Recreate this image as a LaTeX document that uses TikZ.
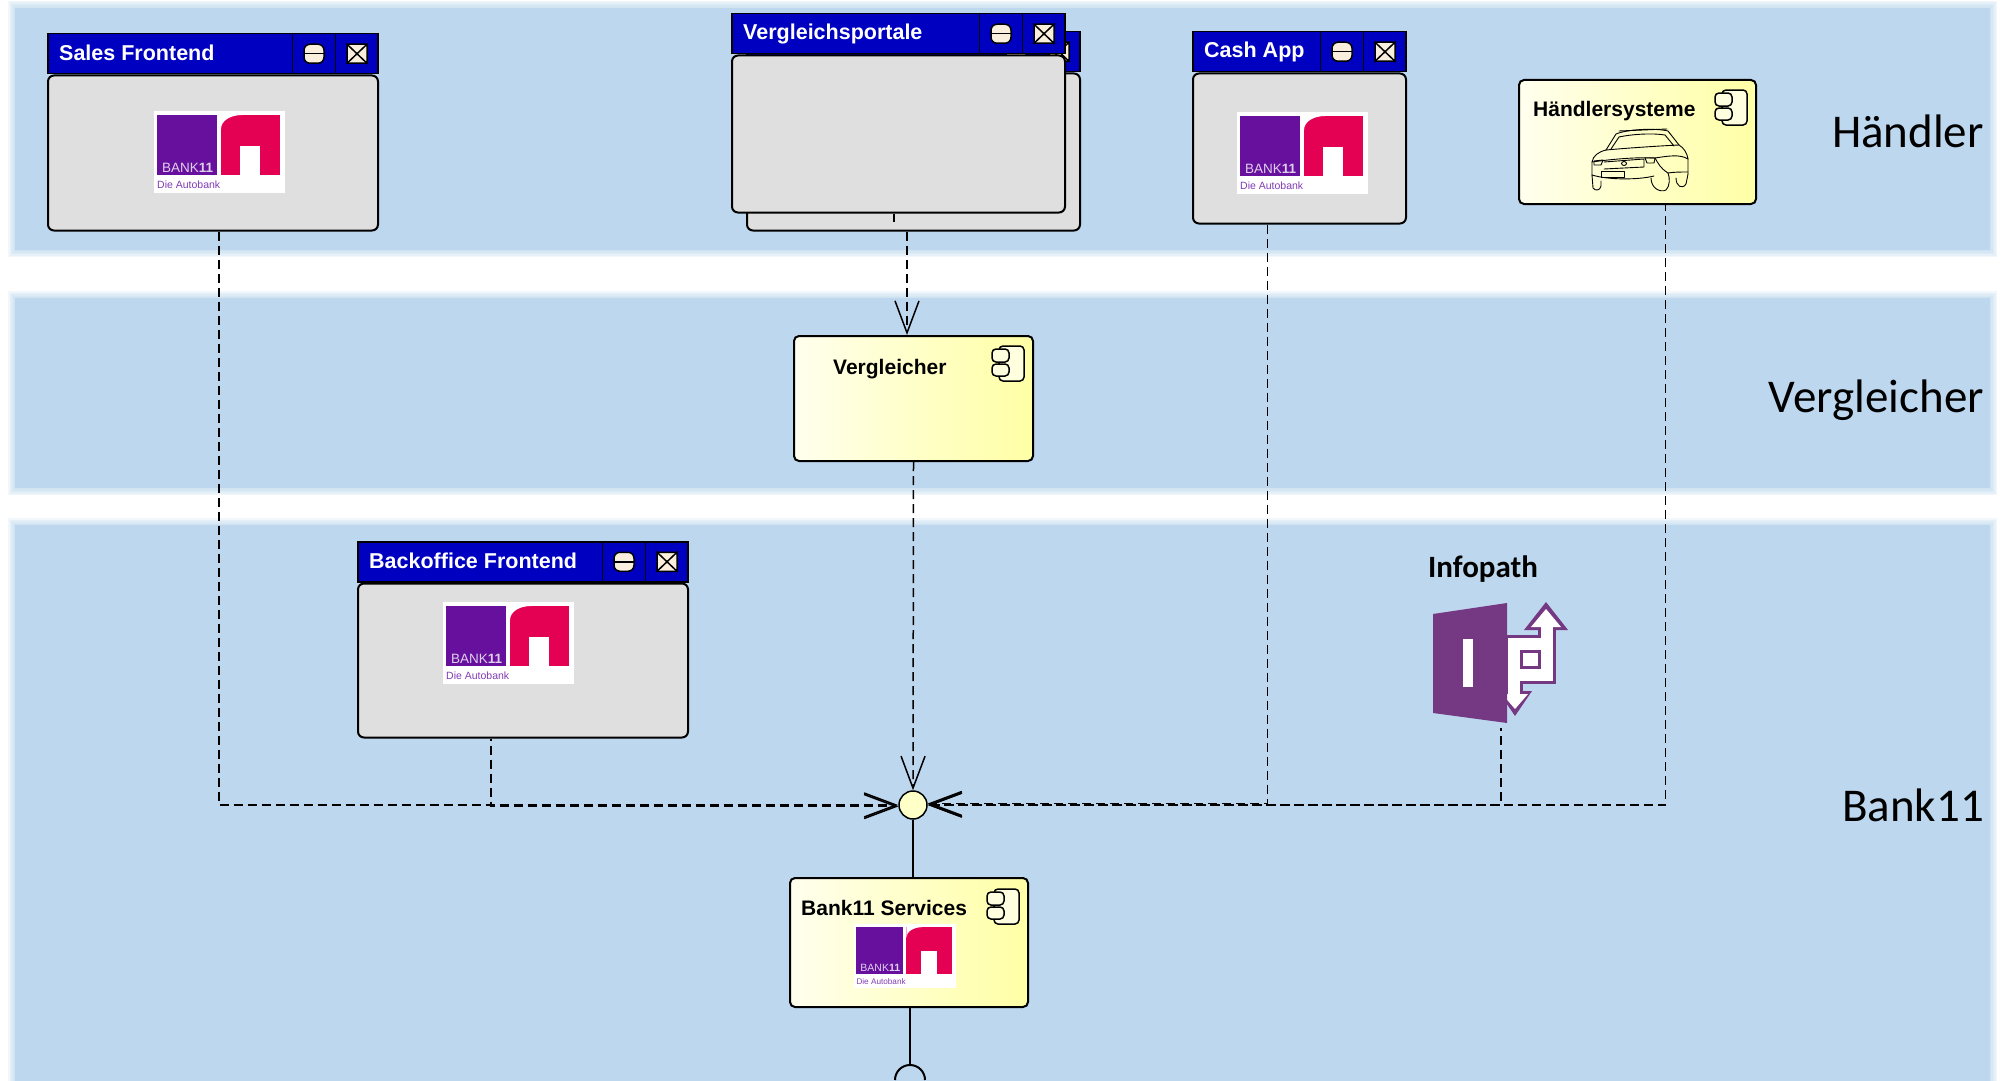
\documentclass[tikz,border=0pt]{standalone}
\usepackage{fontspec}
\setmainfont{Liberation Sans}
\newfontfamily\calibrifont{Carlito}
\usetikzlibrary{calc,arrows.meta}

\definecolor{lane}{RGB}{189,215,238}
\definecolor{barblue}{RGB}{0,0,192}
\definecolor{bodygray}{RGB}{223,223,223}
\definecolor{btncream}{RGB}{250,238,220}
\definecolor{compL}{RGB}{255,255,238}
\definecolor{compR}{RGB}{255,255,165}
\definecolor{iconfill}{RGB}{255,255,224}
\definecolor{logopurple}{RGB}{104,16,158}
\definecolor{logopink}{RGB}{228,0,82}
\definecolor{logotext}{RGB}{222,208,236}
\definecolor{logosub}{RGB}{128,60,180}
\definecolor{ippurple}{RGB}{117,56,131}
\definecolor{ballfill}{RGB}{255,255,200}

\tikzset{
  winbar/.style={draw=black, line width=1.5pt, fill=barblue, minimum height=40pt, inner sep=0pt},
  wintitle/.style={text=white, font=\bfseries\fontsize{21.5}{25}\selectfont, inner sep=0pt, anchor=base west},
  winbody/.style={draw=black, line width=2pt, fill=bodygray, rounded corners=6pt, inner sep=0pt},
  winline/.style={black, line width=1.5pt},
  btnbox/.style={draw=black, line width=1.5pt, fill=btncream, inner sep=0pt, minimum width=20pt, minimum height=19pt},
  compbox/.style={draw=black, line width=2pt, rounded corners=5pt, left color=compL, right color=compR, inner sep=0pt},
  complabel/.style={font=\bfseries\fontsize{21}{25}\selectfont, inner sep=0pt, anchor=base west},
  lanelabel/.style={font=\calibrifont\fontsize{47}{56}\selectfont, inner sep=0pt, anchor=base east},
  dep/.style={line width=1.5pt, dash pattern=on 9pt off 5pt,
    -{Straight Barb[length=32pt,width=24pt,line width=1.5pt]}},
  carline/.style={line width=0.9pt, line join=round, line cap=round},
}

% swim lane with a soft edge
\newcommand\lanerect[4]{%
  \foreach \d in {7,5.5,4,2.5,1}{\fill[lane, opacity=0.2] (#1-\d,#2-\d) rectangle (#3+\d,#4+\d);}
  \fill[lane] (#1,#2) rectangle (#3,#4);}

% window: name, x, y, width, body height, title
\newcommand\uiwindow[6]{%
  \node[winbar, minimum width=#4pt, anchor=north west] (#1-bar) at (#2,#3) {};
  \draw[winline] ($(#1-bar.north east)+(-43,0)$) -- ($(#1-bar.south east)+(-43,0)$);
  \draw[winline] ($(#1-bar.north east)+(-86,0)$) -- ($(#1-bar.south east)+(-86,0)$);
  \node[btnbox, rounded corners=6pt] (#1-min) at ($(#1-bar.east)+(-64.5,0)$) {};
  \draw[winline] (#1-min.west) -- (#1-min.east);
  \node[btnbox, rounded corners=2pt] (#1-close) at ($(#1-bar.east)+(-21.5,0)$) {};
  \draw[winline] (#1-close.north west) -- (#1-close.south east)
                 (#1-close.north east) -- (#1-close.south west);
  \node[wintitle] (#1-title) at ($(#1-bar.north west)+(12,27)$) {#6};
  \node[winbody, minimum width=#4pt, minimum height=#5pt, anchor=north west] (#1) at (#1-bar.south west) {};
}

% BANK11 logo: x, y of the top left corner, scale
\newcommand\banklogo[3]{%
  \begin{scope}[shift={(#1,#2)}, scale=#3, transform shape]
    \fill[white] (0,0) rectangle (131,82);
    \fill[logopurple] (3,4) rectangle (63,64);
    \fill[logopink] (67,4) rectangle (126,64);
    \fill[white] (67,4) -- (88,4) .. controls (76,4) and (67,10) .. (67,18) -- cycle;
    \fill[white] (86,35) rectangle (106,64);
    \node[anchor=base west, inner sep=0pt, text=logotext, font=\fontsize{13.5}{16}\selectfont] at (8,61) {BANK\textbf{11}};
    \node[anchor=base west, inner sep=0pt, text=logosub, font=\fontsize{10.5}{12}\selectfont] at (3,77) {Die Autobank};
  \end{scope}}

% UML component glyph, placed by the top right corner of its box
\newcommand\compicon[1]{%
  \begin{scope}[shift={#1}]
    \draw[line width=1.5pt, fill=iconfill, rounded corners=4pt] (-25,0) rectangle (0,35);
    \draw[line width=1.5pt, fill=iconfill, rounded corners=4pt] (-32,3) rectangle (-15,16);
    \draw[line width=1.5pt, fill=iconfill, rounded corners=4pt] (-32,18) rectangle (-15,30);
  \end{scope}}

\begin{document}
\begin{tikzpicture}[x=1pt,y=-1pt]
\useasboundingbox (0,0) rectangle (2003,1081);
\fill[white] (0,0) rectangle (2003,1081);

% swim lanes
\lanerect{15}{8}{1990}{250}
\lanerect{15}{298}{1990}{488}
\lanerect{15}{525}{1990}{1095}
\node[lanelabel] (lbl-haendler) at (1984,147) {Händler};
\node[lanelabel] (lbl-vgl) at (1984,412) {Vergleicher};
\node[lanelabel] (lbl-bank) at (1984,821) {Bank11};

% frontends
\uiwindow{sales}{47}{33}{330}{155}{Sales Frontend}
\banklogo{154}{111}{1}
\uiwindow{vpback}{746}{31}{333}{157}{}
\uiwindow{vp}{731}{13}{333}{157}{Vergleichsportale}
\draw[line width=1.2pt] ($(vp.south)+(-4.5,0)$) -- ++(0,8);
\uiwindow{cash}{1192}{31}{213}{150}{Cash App}
\banklogo{1237}{112}{1}
\uiwindow{backoffice}{357}{541}{330}{154}{Backoffice Frontend}
\banklogo{443}{602}{1}

% dealer systems
\node[compbox, minimum width=237pt, minimum height=124pt, anchor=north west] (haendler) at (1518,79) {};
\node[complabel] (haendler-label) at (1533,117) {Händlersysteme};
\compicon{($(haendler.north east)+(-10,11)$)}
\begin{scope}[shift={(1588,128)}, carline]
  \draw (18,22) -- (28,6) .. controls (40,1) and (68,0) .. (80,3) -- (91,17);
  \draw (31,3) -- (79,1);
  \draw (23,21) -- (31,9) .. controls (45,6) and (65,5) .. (77,7) -- (86,18);
  \draw (18,22) .. controls (10,24) and (5,28) .. (4,34) -- (4,47);
  \draw (18,22) .. controls (40,20) and (70,18) .. (91,17) .. controls (96,20) and (99,25) .. (100,31) -- (100,46);
  \draw (4,34) .. controls (25,31) and (50,29) .. (67,30) .. controls (80,28) and (92,26) .. (100,31);
  \draw (6,33) -- (15,32) -- (13,37) -- (6,37) -- cycle;
  \draw (57,30) -- (67,30) -- (66,35) -- (59,35) -- cycle;
  \draw (16,34) -- (56,31) -- (56,39) -- (16,41);
  \draw (36,35.5) ellipse (2.5 and 2);
  \draw (13,43) rectangle (36,49);
  \draw (4,47) .. controls (20,52) and (50,52) .. (66,48);
  \draw (4,47) -- (5,60) .. controls (7,63) and (12,63) .. (13,58) -- (13,53);
  \draw (63,50) .. controls (63,60) and (72,65) .. (78,62) .. controls (82,58) and (82,50) .. (80,45);
  \draw (88,50) .. controls (88,58) and (94,62) .. (98,56) -- (100,46);
  \draw (67,30) .. controls (70,35) and (72,40) .. (80,45) .. controls (86,44) and (93,44) .. (100,44);
\end{scope}

% comparison engine
\node[compbox, minimum width=239pt, minimum height=125pt, anchor=north west] (vgl) at (793,335) {};
\node[complabel] (vgl-label) at (833,374) {Vergleicher};
\compicon{($(vgl.north east)+(-10,11)$)}

% Infopath
\node[font=\calibrifont\bfseries\fontsize{31}{36}\selectfont, inner sep=0pt, anchor=base west] (infopath) at (1428,577) {Infopath};
\node[inner sep=0pt, minimum width=136pt, minimum height=120pt, anchor=north west] (infopath-icon) at (1433,603) {};
\fill[white] (1514,644) rectangle (1547,675);
\draw[ippurple, line width=18pt] (1514,644) -- (1547,644) -- (1547,675) -- (1514,675) -- cycle
  (1547,644) -- (1547,626) (1514,675) -- (1514,695);
\fill[ippurple] (1546,602) -- (1568,630) -- (1524,630) -- cycle;
\fill[ippurple] (1515,716) -- (1532,691) -- (1498,691) -- cycle;
\draw[white, line width=12pt] (1514,644) -- (1547,644) -- (1547,675) -- (1514,675) -- cycle
  (1547,644) -- (1547,624) (1514,675) -- (1514,697);
\fill[white] (1546,609) -- (1561,627) -- (1531,627) -- cycle;
\fill[white] (1515,709) -- (1528,694) -- (1502,694) -- cycle;
\fill[ippurple] (1433,614) -- (1507,603) -- (1507,723) -- (1433,713) -- cycle;
\fill[white] (1463,639) rectangle (1473,687);

% Bank11 services with provided and required interface
\node[compbox, minimum width=238pt, minimum height=129pt, anchor=north west] (bank) at (789,877) {};
\node[complabel] (bank-label) at (801,915) {Bank11 Services};
\compicon{($(bank.north east)+(-10,12)$)}
\banklogo{854}{924}{0.78}
\node[circle, draw, line width=1.5pt, fill=ballfill, minimum size=28pt, inner sep=0pt] (ball) at (913,805) {};
\coordinate (socket) at ($(bank.south)+(1,72)$);

% connectors; dash phases keep the shared stretches in step
\draw[dep] ($(sales.south)+(6,0)$) |- (ball.west);
\draw[dep, dash phase=7pt] ($(backoffice.south)+(-32,0)$) |- ($(ball.west)+(0,1.5)$);
\draw[dep] (vgl.south) -- (ball.north);
\draw[dep] ($(cash.south)+(-32,0)$) |- ($(ball.east)+(0,-1.5)$);
\draw[dep, dash phase=6pt] ($(infopath-icon.south)+(0,5)$) |- (ball.east);
\draw[dep, dash phase=3pt] ($(haendler.south)+(28,0)$) |- (ball.east);
\draw[dep] ($(vpback.south)+(-6.5,0)$) -- ($(vgl.north)+(-6.5,0)$);
\draw[line width=1.5pt] (ball.south) -- (ball.south |- bank.north);
\draw[line width=2pt] ($(bank.south)+(1,0)$) -- ($(socket)+(0,-15)$);
\draw[line width=2pt] ($(socket)+(-15,0)$) arc[start angle=180, end angle=360, radius=15];
\end{tikzpicture}
\end{document}
